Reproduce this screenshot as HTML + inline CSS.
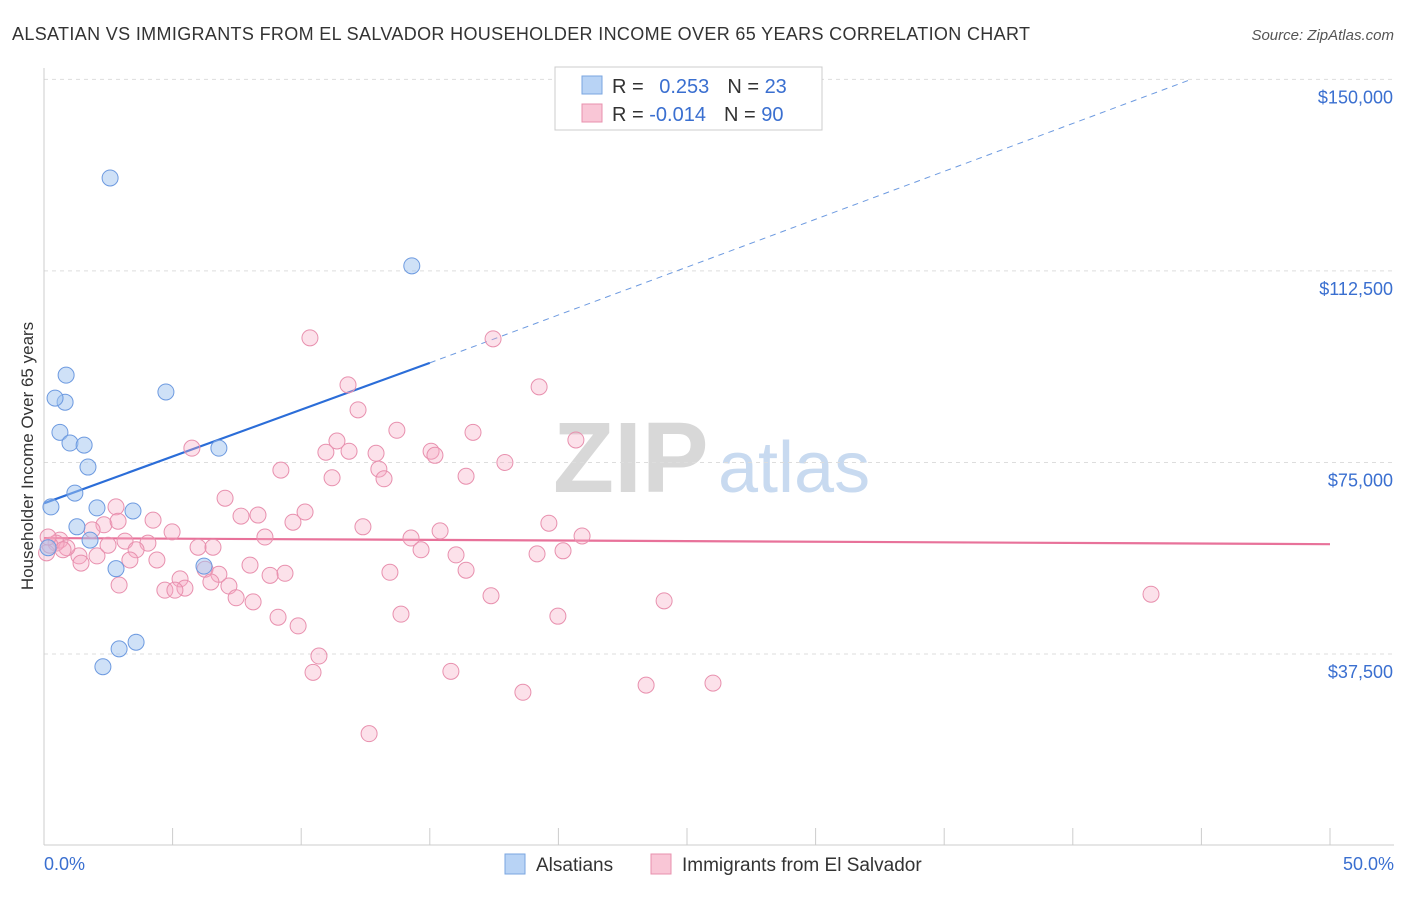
<!DOCTYPE html>
<html><head><meta charset="utf-8"><style>
body{margin:0;background:#fff;font-family:"Liberation Sans",sans-serif;}
svg text{font-family:"Liberation Sans",sans-serif;}
</style></head><body>
<svg id="chart" width="1406" height="892" xmlns="http://www.w3.org/2000/svg">
<text x="12" y="40" font-size="18" fill="#333" textLength="1018" lengthAdjust="spacing">ALSATIAN VS IMMIGRANTS FROM EL SALVADOR HOUSEHOLDER INCOME OVER 65 YEARS CORRELATION CHART</text>
<text x="1394" y="40" font-size="15" fill="#555" text-anchor="end" font-style="italic">Source: ZipAtlas.com</text>
<g>
<text x="553" y="492" font-size="100" fill="#d8d8d8" font-family="Liberation Serif" font-weight="bold">ZIP</text>
<text x="718" y="492" font-size="72" fill="#c8daf0">atlas</text>
</g>
<g id="grid"></g><g id="axes"></g><g id="trends"></g><g id="points"></g>
<text transform="translate(33,456) rotate(-90)" font-size="17" fill="#333" text-anchor="middle">Householder Income Over 65 years</text>
<g>
<rect x="555" y="67" width="267" height="63" fill="#fff" stroke="#ccc"/>
<rect x="582" y="76" width="20" height="18" fill="#b8d3f5" stroke="#7aa6e0"/>
<rect x="582" y="104" width="20" height="18" fill="#f9c6d6" stroke="#e890ae"/>
<text x="612" y="93" font-size="20" fill="#333">R = <tspan fill="#3a6fd0" dx="10">0.253</tspan><tspan dx="18">N = </tspan><tspan fill="#3a6fd0">23</tspan></text>
<text x="612" y="121" font-size="20" fill="#333">R = <tspan fill="#3a6fd0">-0.014</tspan><tspan dx="18">N = </tspan><tspan fill="#3a6fd0">90</tspan></text>
</g>
<g>
<rect x="505" y="854" width="20" height="20" fill="#b8d3f5" stroke="#7aa6e0"/>
<text x="536" y="871" font-size="19" fill="#333">Alsatians</text>
<rect x="651" y="854" width="20" height="20" fill="#f9c6d6" stroke="#e890ae"/>
<text x="682" y="871" font-size="19" fill="#333">Immigrants from El Salvador</text>
</g>
</svg>
<script>
const yTicks=[37500,75000,112500,150000];
const yTickLabels=["$37,500","$75,000","$112,500","$150,000"];
const xTickLabels=["0.0%","50.0%"];
const blueX=[2.57,14.3,0.86,0.82,0.43,4.74,0.62,1.01,1.56,1.71,6.8,1.2,0.27,2.06,3.46,1.28,1.79,0.16,2.8,6.22,3.58,2.92,2.29];
const blueY=[130700,113500,92100,86800,87600,88800,80900,78800,78400,74100,77800,69000,66300,66100,65500,62400,59800,58300,54200,54700,39800,38500,35000];
const pinkX=[10.34,17.46,11.82,19.25,12.21,5.75,13.72,16.68,11.39,11.86,20.68,15.05,10.96,12.91,15.2,13.02,17.92,9.21,11.2,13.22,16.41,7.04,2.8,10.15,7.66,8.32,9.68,4.24,19.63,12.4,15.4,2.33,4.98,1.87,8.59,14.27,20.92,3.15,0.62,4.04,3.58,5.99,6.57,14.66,16.02,19.17,20.18,2.06,4.39,3.34,1.36,0.89,0.47,0.1,0.23,8.01,6.26,1.44,9.37,8.79,6.8,13.45,16.41,5.29,6.49,7.19,2.92,5.48,4.7,5.09,7.47,8.13,17.38,24.11,43.04,9.1,13.88,19.98,9.88,10.69,10.46,15.82,18.62,23.41,26.01,12.64,0.16,0.74,2.49,2.88];
const pinkY=[99.4,99.2,90.2,89.8,85.3,77.8,81.3,80.9,79.2,77.2,79.4,77.2,77.0,76.8,76.4,73.7,75.0,73.5,72.0,71.8,72.3,68.0,66.3,65.3,64.5,64.7,63.3,63.7,63.1,62.4,61.6,62.8,61.4,61.8,60.4,60.2,60.6,59.6,59.8,59.2,57.9,58.4,58.4,57.9,56.9,57.1,57.7,56.7,55.9,55.9,56.7,58.3,59.2,57.3,58.8,54.9,54.1,55.3,53.3,52.9,53.1,53.5,53.9,52.2,51.6,50.8,51.0,50.4,50.0,50.0,48.5,47.7,48.9,47.9,49.2,44.7,45.3,44.9,43.0,37.1,33.9,34.1,30.0,31.4,31.8,21.9,60.4,57.9,58.8,63.5];
const blueTrend=[[0,67000],[15,94500],[44.6,150000]];
const pinkTrend=[[0,60200],[50,59000]];
const NS="http://www.w3.org/2000/svg";
const sx=v=>44+v*25.72;
const sy=v=>845.5-v/195.8;
function mk(tag,attrs,parent){const e=document.createElementNS(NS,tag);for(const k in attrs)e.setAttribute(k,attrs[k]);document.getElementById(parent).appendChild(e);return e;}
yTicks.forEach((t,i)=>{
 const l=mk('line',{x1:44,x2:1394,y1:sy(t),y2:sy(t),stroke:'#ddd','stroke-dasharray':'4,4'},'grid');
 
 
 const tx=mk('text',{x:1393,y:sy(t)+24,'font-size':18,fill:'#3a6fd0','text-anchor':'end'},'grid');
 tx.textContent=yTickLabels[i];
 
 
});
const ax=mk('line',{x1:44,x2:44,y1:68,y2:845,stroke:'#ccc'},'axes');


const bx=mk('line',{x1:44,x2:1394,y1:845,y2:845,stroke:'#ccc'},'axes');


for(let i=0;i<=10;i++){
 const t=mk('line',{x1:sx(i*5),x2:sx(i*5),y1:828,y2:845,stroke:'#ccc'},'axes');
 
 
}
[[0,'start',44],[1,'end',1394]].forEach(([i,a,x])=>{
 const t=mk('text',{x:x,y:870,'font-size':18,fill:'#3a6fd0','text-anchor':a},'axes');
 t.textContent=xTickLabels[i];
 
 
});
const b1=mk('line',{x1:sx(blueTrend[0][0]),y1:sy(blueTrend[0][1]),x2:sx(blueTrend[1][0]),y2:sy(blueTrend[1][1]),stroke:'#2b6dd8','stroke-width':2.2},'trends');


const b2=mk('line',{x1:sx(blueTrend[1][0]),y1:sy(blueTrend[1][1]),x2:sx(blueTrend[2][0]),y2:sy(blueTrend[2][1]),stroke:'#6d9ae0','stroke-width':1,'stroke-dasharray':'6,5'},'trends');


const p1=mk('line',{x1:sx(pinkTrend[0][0]),y1:sy(pinkTrend[0][1]),x2:sx(pinkTrend[1][0]),y2:sy(pinkTrend[1][1]),stroke:'#e8729a','stroke-width':2.2},'trends');


pinkX.forEach((x,i)=>{
 const c=mk('circle',{cx:sx(x),cy:sy(pinkY[i]*1000),r:8,fill:'rgba(245,170,196,0.35)',stroke:'#e890ae','stroke-width':1},'points');
 
 
});
blueX.forEach((x,i)=>{
 const c=mk('circle',{cx:sx(x),cy:sy(blueY[i]),r:8,fill:'rgba(160,195,240,0.5)',stroke:'#6d9ae0','stroke-width':1},'points');
 
 
});
</script>
</body></html>
